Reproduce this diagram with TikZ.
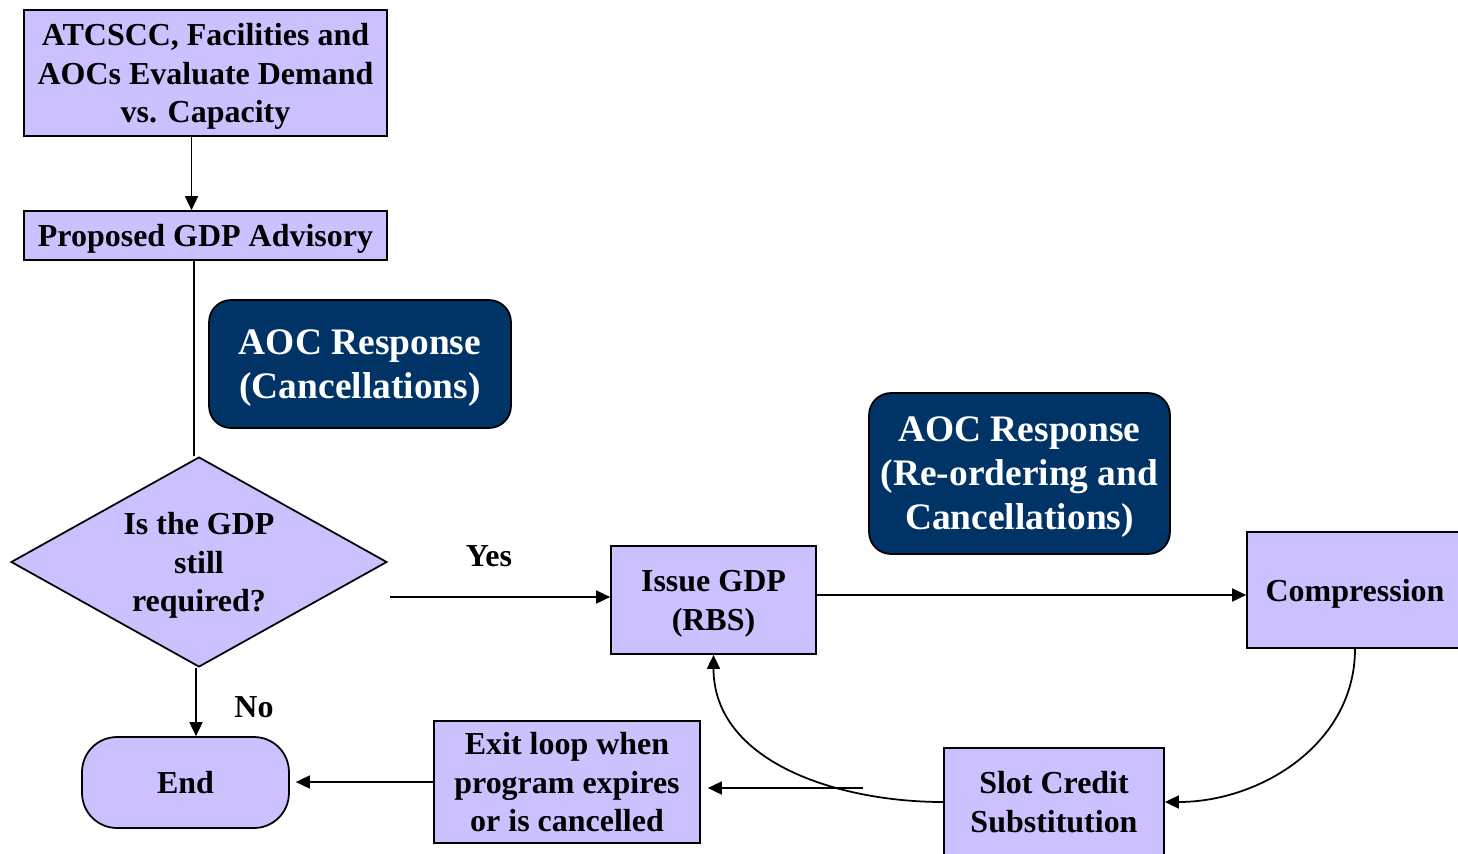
\documentclass[tikz,border=0pt]{standalone}
\usepackage{fontspec}
\setmainfont{Liberation Serif}
\usepackage{xcolor}
\usetikzlibrary{positioning,shapes.geometric,arrows.meta}

\definecolor{lavender}{RGB}{204,192,255}
\definecolor{navy}{RGB}{0,51,102}

\begin{document}
\begin{tikzpicture}[x=0.02cm, y=-0.02cm,
    box/.style={draw, fill=lavender, line width=1pt, inner sep=0pt, align=center,
        font=\fontsize{18.2}{22.1}\selectfont\bfseries, text depth=-1.7pt},
    resp/.style={draw, fill=navy, text=white, line width=1pt, rounded corners=0.44cm,
        inner sep=0pt, align=center, font=\fontsize{21.3}{25}\selectfont\bfseries,
        text depth=-2.4pt},
    arr/.style={line width=1pt, -{Triangle[length=0.28cm, width=0.26cm]}},
    lbl/.style={font=\fontsize{18.2}{22.1}\selectfont\bfseries}]
    \useasboundingbox (0,0) rectangle (1458,853);
    \clip (0,0) rectangle (1458,853);

    \node[box, minimum width=7.26cm, minimum height=2.52cm] at (205.5, 73)(eval)
        {ATCSCC, Facilities and\\AOCs Evaluate Demand\\vs. Capacity};
    \node[box, minimum width=7.26cm, minimum height=0.98cm] at (205.5, 235.5)(advis)
        {Proposed GDP Advisory};
    \node[resp, minimum width=6.04cm, minimum height=2.56cm] at (360, 364)(resp1)
        {AOC Response\\(Cancellations)};
    \node[box, diamond, shape aspect=1.79, minimum width=7.52cm, minimum height=4.2cm]
        at (199, 562)(still) {Is the GDP\\still\\required?};
    \node[box, minimum width=4.1cm, minimum height=2.16cm] at (713.5, 600)(issue)
        {Issue GDP\\(RBS)};
    \node[resp, minimum width=6.02cm, minimum height=3.22cm] at (1019.5, 473.5)(resp2)
        {AOC Response\\(Re-ordering and\\Cancellations)};
    \node[box, minimum width=4.32cm, minimum height=2.32cm] at (1355, 590)(compr)
        {Compression};
    \node[box, minimum width=4.4cm, minimum height=2.16cm] at (1054, 802)(slot)
        {Slot Credit\\Substitution};
    \node[box, minimum width=5.32cm, minimum height=2.44cm] at (567, 782)(exit)
        {Exit loop when\\program expires\\or is cancelled};
    \node[box, rounded corners=0.7cm, minimum width=4.14cm, minimum height=1.82cm]
        at (185.5, 782.5)(end) {End};

    \node[lbl] at (489, 556)(yes) {Yes};
    \node[lbl] at (254, 707)(no) {No};

    \coordinate (yesfrom) at (390, 597);
    \coordinate (loopout) at (863, 788);

    \draw[arr] ([xshift=-0.28cm]eval.south) -- ([xshift=-0.28cm]advis.north);
    \draw[line width=1pt] ([xshift=-0.23cm]advis.south) -- ([xshift=-0.1cm]still.north);
    \draw[arr] (yesfrom) -- (yesfrom -| issue.west);
    \draw[arr] ([yshift=0.1cm]issue.east) -- ([yshift=0.1cm]issue.east -| compr.west);
    \draw[arr] (compr.south) to[out=-90, in=0] (slot.east);
    \draw[arr] (slot.west) to[out=180, in=-90] (issue.south);
    \draw[arr, shorten >=0.14cm] (loopout) -- (loopout -| exit.east);
    \draw[arr, shorten >=0.12cm] (exit.west) -- (exit.west -| end.east);
    \draw[arr] ([xshift=-0.06cm]still.south) -- ([xshift=-0.06cm]still.south |- end.north);

\end{tikzpicture}
\end{document}
